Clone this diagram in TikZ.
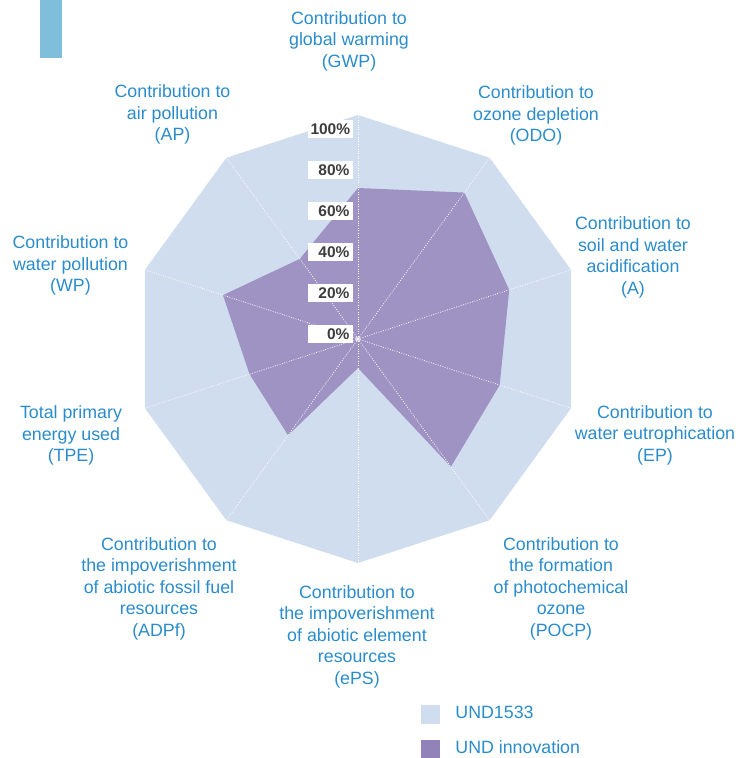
\documentclass[tikz,border=0pt]{standalone}
\usepackage{fontspec}
\setmainfont{Liberation Sans}
\usetikzlibrary{positioning}

\definecolor{undblue}{HTML}{2A8CCB}
\definecolor{undpale}{HTML}{D0DDEF}
\definecolor{undpurple}{HTML}{9F93C4}
\definecolor{undlegend}{HTML}{9282BA}
\definecolor{undbar}{HTML}{80BFDC}
\definecolor{undgray}{HTML}{3D3D3D}

\tikzset{
  axislabel/.style={text=undblue, align=center, inner sep=0pt, yshift=-1.5pt,
    font=\fontsize{17.8}{21.5}\selectfont},
  pct/.style={fill=white, text=undgray, anchor=east, align=right,
    text width=39pt, minimum height=18pt, inner sep=3pt,
    font=\fontsize{15.5}{18}\selectfont\bfseries},
  spoke/.style={white, line width=0.8pt, dash pattern=on 0.8pt off 1.6pt},
  legbox/.style={minimum size=19pt, inner sep=0pt},
}

\begin{document}
\begin{tikzpicture}[x=1pt, y=1pt]
  \useasboundingbox (0,0) rectangle (751,758);
  \fill[undbar] (40,700) rectangle (62,758);

  \begin{scope}[shift={(358,419)}]
    % UND1533 = 100% everywhere
    \fill[undpale] (90:224) \foreach \a in {54,18,...,-234} { -- (\a:224) } -- cycle;
    % UND innovation
    \fill[undpurple] (90:151) -- (54:181) -- (18:159) -- (-18:149) -- (-54:158)
      -- (-90:29) -- (-126:119) -- (-162:114) -- (162:142) -- (126:99) -- cycle;
    \foreach \a in {90,54,...,-234}
      \draw[spoke] (0,0) -- (\a:224);
    \draw[white, line width=0.6pt] (0,0) circle (2pt);
    \foreach \p [count=\i from 0] in {0,20,...,100}
      \node[pct] (p\p) at (-5.3, {5+41*\i}) {\p\%};
  \end{scope}

  \node[axislabel] (gwp)  at (349, 718.5) {Contribution to\\global warming\\(GWP)};
  \node[axislabel] (odo)  at (536, 644)   {Contribution to\\ozone depletion\\(ODO)};
  \node[axislabel] (acid) at (633, 502)   {Contribution to\\soil and water\\acidification\\(A)};
  \node[axislabel] (ep)   at (655, 324.5) {Contribution to\\water eutrophication\\(EP)};
  \node[axislabel] (pocp) at (561, 171)   {Contribution to\\the formation\\of photochemical\\ozone\\(POCP)};
  \node[axislabel] (eps)  at (357, 123)   {Contribution to\\the impoverishment\\of abiotic element\\resources\\(ePS)};
  \node[axislabel] (adpf) at (159, 171)   {Contribution to\\the impoverishment\\of abiotic fossil fuel\\resources\\(ADPf)};
  \node[axislabel] (tpe)  at (71, 324)    {Total primary\\energy used\\(TPE)};
  \node[axislabel] (wp)   at (70.5, 494)  {Contribution to\\water pollution\\(WP)};
  \node[axislabel] (ap)   at (172.5, 645) {Contribution to\\air pollution\\(AP)};

  % legend
  \node[legbox, fill=undpale] (lgold) at (430.5, 43.5) {};
  \node[legbox, fill=undlegend, below=15.3pt of lgold] (lgnew) {};
  \node[axislabel, right=15pt of lgold, yshift=3.5pt] (lgoldtxt) {UND1533};
  \node[axislabel, right=15pt of lgnew, yshift=3.5pt] (lgnewtxt) {UND innovation};
\end{tikzpicture}
\end{document}
